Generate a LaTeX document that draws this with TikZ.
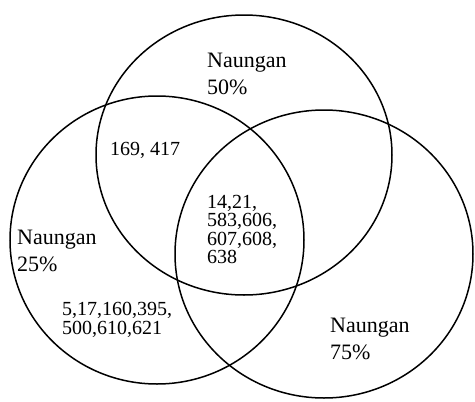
\documentclass[tikz,border=0pt]{standalone}
\usepackage{fontspec}
\setmainfont{Liberation Serif}
\begin{document}
\begin{tikzpicture}[x=1pt,y=-1pt,
    ring/.style={line width=1.5pt},
    setlabel/.style={anchor=north west, align=left, inner sep=0pt, font=\fontsize{22}{27}\selectfont},
    members/.style={anchor=north west, align=left, inner sep=0pt, font=\fontsize{20}{18.5}\selectfont}]
        \useasboundingbox (0,0) rectangle (475,402);
        % Circles
        \draw[ring] (244,155) ellipse [x radius=148, y radius=140];
        \draw[ring] (157,240) ellipse [x radius=147, y radius=144];
        \draw[ring] (324,254) ellipse [x radius=149, y radius=144];
        % Set labels
        \node[setlabel] (n50) at (207,53) {Naungan\\50\%};
        \node[setlabel] (n25) at (17,230) {Naungan\\25\%};
        \node[setlabel] (n75) at (330,318) {Naungan\\75\%};
        % Members
        \node[members] (ab) at (110,142) {169, 417};
        \node[members] (abc) at (207,195) {14,21,\\583,606,\\607,608,\\638};
        \node[members] (a) at (62,302) {5,17,160,395,\\500,610,621};
\end{tikzpicture}
\end{document}
